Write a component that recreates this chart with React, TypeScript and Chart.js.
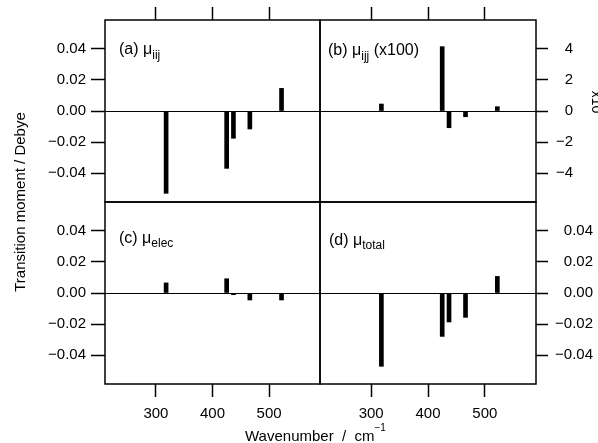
import React, { useEffect, useRef } from "react";
import { Chart, registerables } from "chart.js";

Chart.register(...registerables);

// ---------------- data ----------------
const wavenumbers = [318, 425, 437, 466, 522];
const muIIJ = [-0.0531, -0.037, -0.0176, -0.0116, 0.0146];
const muIJJx100 = [0.45, 4.15, -1.08, -0.37, 0.28];
const muElec = [0.0065, 0.0092, -0.0011, -0.0045, -0.0045];
const muTotal = [-0.0473, -0.028, -0.0187, -0.0157, 0.0107];

const xTickValues = [300, 400, 500];
const yTickValues = [-0.04, -0.02, 0, 0.02, 0.04];
const yTickValuesB = [-4, -2, 0, 2, 4];

const xRange = [210, 590];
const yLimit = 0.0587;
const yLimitB = 5.87;

const yTitle = "Transition moment / Debye";
const xTitle = "Wavenumber  /  cm";
const xTitleSup = "\u22121";
const rightNote = "x10";

// ---------------- layout / style ----------------
const W = 598;
const H = 443;
const FONT = '"Liberation Sans", Arial, Helvetica, sans-serif';

type Part = { t: string; size: number; dy?: number };

type Panel = {
  values: number[];
  ticks: number[];
  limit: number;
  digits: number;
  xPos: "top" | "bottom";
  yPos: "left" | "right";
  area: { l: number; r: number; t: number; b: number };
  rightW?: number;
  labelRight?: number;
  label: Part[];
  labelAt: [number, number];
  extras?: "b" | "c";
};

const PANELS: Panel[] = [
  {
    values: muIIJ, ticks: yTickValues, limit: yLimit, digits: 2,
    xPos: "top", yPos: "left", area: { l: 105, r: 320, t: 20, b: 202 },
    label: [{ t: "(a) \u03bc", size: 16 }, { t: "iij", size: 12, dy: 5 }],
    labelAt: [119, 54],
  },
  {
    values: muIJJx100, ticks: yTickValuesB, limit: yLimitB, digits: 0,
    xPos: "top", yPos: "right", area: { l: 320, r: 536, t: 20, b: 202 }, rightW: 37, labelRight: 573,
    label: [{ t: "(b) \u03bc", size: 16 }, { t: "ijj", size: 12, dy: 5 }, { t: " (x100)", size: 16 }],
    labelAt: [328, 55], extras: "b",
  },
  {
    values: muElec, ticks: yTickValues, limit: yLimit, digits: 2,
    xPos: "bottom", yPos: "left", area: { l: 105, r: 320, t: 202, b: 384 },
    label: [{ t: "(c) \u03bc", size: 16 }, { t: "elec", size: 12, dy: 4 }],
    labelAt: [119, 243], extras: "c",
  },
  {
    values: muTotal, ticks: yTickValues, limit: yLimit, digits: 2,
    xPos: "bottom", yPos: "right", area: { l: 320, r: 536, t: 202, b: 384 }, rightW: 57, labelRight: 593,
    label: [{ t: "(d) \u03bc", size: 16 }, { t: "total", size: 12, dy: 4 }],
    labelAt: [329, 245],
  },
];

function fmt(v: number, digits: number) {
  const s = (Math.abs(v) < 1e-12 ? 0 : v).toFixed(digits);
  return s.replace("-", "\u2212");
}

function drawParts(ctx: CanvasRenderingContext2D, x: number, y: number, parts: Part[]) {
  let cx = x;
  for (const p of parts) {
    ctx.font = `${p.size}px ${FONT}`;
    ctx.fillText(p.t, cx, y + (p.dy || 0));
    cx += ctx.measureText(p.t).width;
  }
}

function makeDecor(p: Panel) {
  return {
    id: "decor",
    beforeDatasetsDraw(chart: any) {
      const { ctx, chartArea: a, scales } = chart;
      const y0 = Math.round(scales.y.getPixelForValue(0)) + 0.5;
      ctx.save();
      ctx.strokeStyle = "#000";
      ctx.lineWidth = 1;
      ctx.beginPath();
      ctx.moveTo(a.left, y0);
      ctx.lineTo(a.right, y0);
      ctx.stroke();
      ctx.restore();
    },
    afterDatasetsDraw(chart: any) {
      const { ctx, chartArea: a, scales } = chart;
      ctx.save();
      ctx.strokeStyle = "#000";
      ctx.lineWidth = 1.5;
      ctx.strokeRect(a.left, a.top, a.right - a.left, a.bottom - a.top);
      ctx.fillStyle = "#000";
      ctx.textAlign = "left";
      ctx.textBaseline = "alphabetic";
      drawParts(ctx, p.labelAt[0], p.labelAt[1], p.label);
      if (p.yPos === "right" && p.labelRight) {
        ctx.save();
        ctx.font = `15px ${FONT}`;
        ctx.textAlign = "right";
        ctx.textBaseline = "middle";
        for (const v of p.ticks) {
          ctx.fillText(fmt(v, p.digits), p.labelRight, scales.y.getPixelForValue(v));
        }
        ctx.restore();
      }
      if (p.extras === "b") {
        ctx.save();
        ctx.translate(592, 102);
        ctx.rotate(Math.PI / 2);
        ctx.font = `14px ${FONT}`;
        ctx.textAlign = "center";
        ctx.fillText(rightNote, 0, 0);
        ctx.restore();
      }
      if (p.extras === "c") {
        ctx.save();
        ctx.translate(24.5, 202);
        ctx.rotate(-Math.PI / 2);
        ctx.font = `15px ${FONT}`;
        ctx.textAlign = "center";
        ctx.fillText(yTitle, 0, 0);
        ctx.restore();
        ctx.font = `15px ${FONT}`;
        ctx.textAlign = "left";
        ctx.fillText(xTitle, 245, 441);
        const w = ctx.measureText(xTitle).width;
        ctx.font = `10px ${FONT}`;
        ctx.fillText(xTitleSup, 245 + w, 431);
      }
      ctx.restore();
    },
  };
}

function makeConfig(p: Panel): any {
  const left = p.yPos === "left";
  const rightW = p.rightW || 0;
  const padding = {
    left: left ? p.area.l - 60 : p.area.l,
    right: left ? W - p.area.r : W - p.area.r - rightW,
    top: p.xPos === "top" ? p.area.t - 14 : p.area.t,
    bottom: p.xPos === "bottom" ? H - p.area.b - 50 : H - p.area.b,
  };
  const tickFont = { family: FONT, size: 15 };
  return {
    type: "bar",
    data: {
      datasets: [
        {
          data: wavenumbers.map((x, i) => ({ x, y: p.values[i] })),
          backgroundColor: "#000",
          borderWidth: 0,
          barThickness: 4,
        },
      ],
    },
    options: {
      animation: false,
      responsive: false,
      events: [],
      layout: { padding, autoPadding: false },
      plugins: { legend: { display: false }, tooltip: { enabled: false }, title: { display: false } },
      scales: {
        x: {
          type: "linear",
          position: p.xPos,
          min: xRange[0],
          max: xRange[1],
          offset: false,
          afterBuildTicks: (s: any) => {
            s.ticks = xTickValues.map((v) => ({ value: v }));
          },
          afterFit: (s: any) => {
            s.height = p.xPos === "top" ? 14 : 50;
          },
          border: { display: false },
          grid: {
            offset: false,
            drawOnChartArea: false,
            drawTicks: true,
            tickLength: 13,
            tickColor: "#000",
            tickWidth: 1.5,
          },
          ticks: {
            display: p.xPos === "bottom",
            font: tickFont,
            color: "#000",
            padding: 8,
            maxRotation: 0,
            autoSkip: false,
            callback: (v: any) => String(v),
          },
        },
        y: {
          type: "linear",
          position: p.yPos,
          min: -p.limit,
          max: p.limit,
          afterBuildTicks: (s: any) => {
            s.ticks = p.ticks.map((v) => ({ value: v }));
          },
          afterFit: (s: any) => {
            s.width = left ? 60 : rightW;
          },
          border: { display: false },
          grid: {
            drawOnChartArea: false,
            drawTicks: true,
            tickLength: left ? 14 : 12,
            tickColor: "#000",
            tickWidth: 1.5,
          },
          ticks: {
            display: left,
            font: tickFont,
            color: "#000",
            padding: 5,
            autoSkip: false,
            callback: (v: any) => fmt(Number(v), p.digits),
          },
        },
      },
    },
    plugins: [makeDecor(p)],
  };
}

export default function App() {
  const refs = useRef<(HTMLCanvasElement | null)[]>([]);
  useEffect(() => {
    const charts = PANELS.map((p, i) => new Chart(refs.current[i] as HTMLCanvasElement, makeConfig(p)));
    return () => charts.forEach((c) => c.destroy());
  }, []);
  return (
    <div style={{ position: "absolute", left: 0, top: 0, width: W, height: H, background: "#fff", overflow: "hidden" }}>
      {PANELS.map((_, i) => (
        <canvas
          key={i}
          ref={(el) => {
            refs.current[i] = el;
          }}
          width={W}
          height={H}
          style={{ position: "absolute", left: 0, top: 0, width: W, height: H }}
        />
      ))}
    </div>
  );
}
